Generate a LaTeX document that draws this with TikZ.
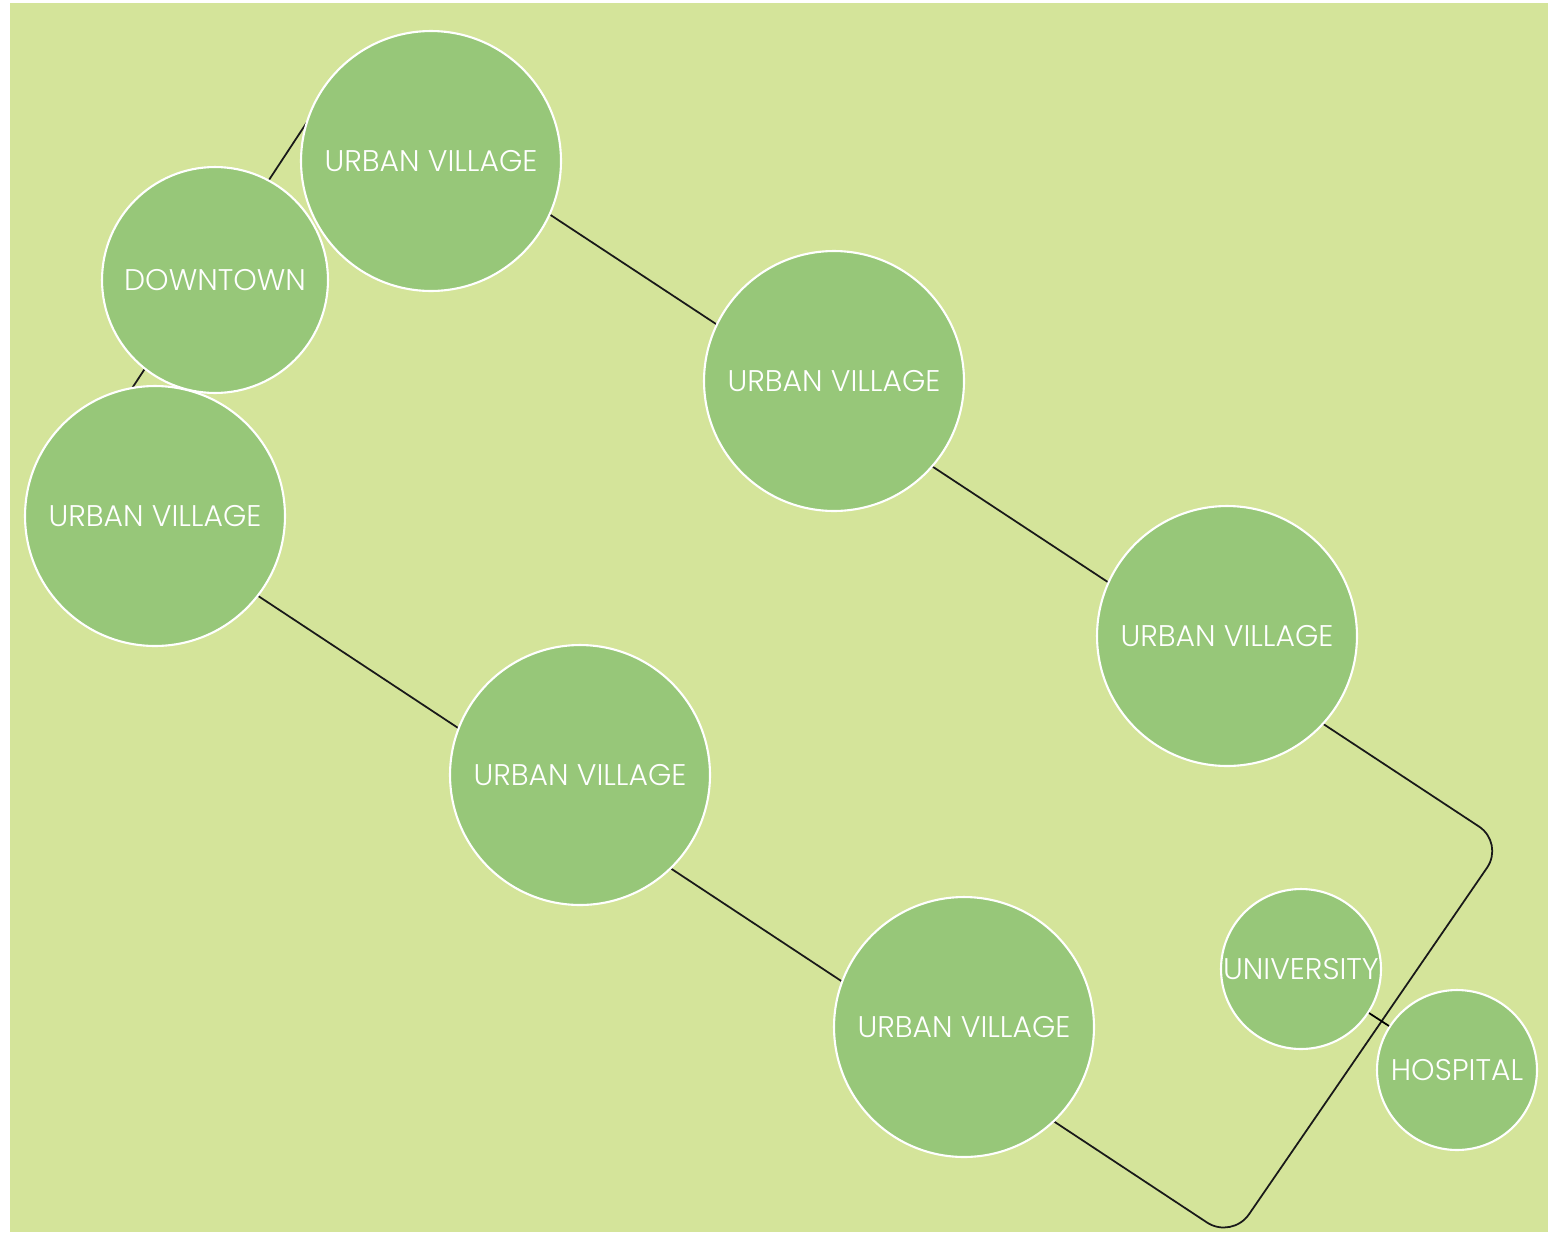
\documentclass[tikz,border=0pt]{standalone}
\usepackage{fontspec}
\setmainfont{Poppins}[UprightFont=* Light]
\definecolor{meadow}{RGB}{212,228,154}
\definecolor{leaf}{RGB}{151,199,121}
\tikzset{
  place/.style={circle, fill=leaf, draw=white, line width=1.2pt, text=white,
    inner sep=0pt, font=\fontsize{17}{17}\selectfont},
  village/.style={place, minimum size=5.2cm},
  hub/.style={place, minimum size=4.52cm},
  campus/.style={place, minimum size=3.2cm},
  loopline/.style={line width=1pt, black!90, rounded corners=0.6cm}
}
\begin{document}
\begin{tikzpicture}[x=0.02cm,y=-0.02cm]
  \useasboundingbox (0,0) rectangle (1548,1234);
  \fill[meadow] (10,3) rectangle (1548,1232);
  % corners of the loop, hidden behind the villages
  \coordinate (nw) at (338,75);
  \coordinate (ne) at (1504,843);
  \coordinate (se) at (1232,1239);
  \coordinate (sw) at (75,475);
  \draw[loopline] (nw) -- (ne) -- (se) -- (sw) -- cycle;
  \foreach \name/\x/\y in {uvtop/431/161, uvleft/155/516, uvmid/834/381,
      uvright/1227/636, uvcenter/580/775, uvbottom/964/1027} { %each urban village
    \node[village] (\name) at (\x,\y) {URBAN VILLAGE};
  }
  \node[hub] (downtown) at (215,280) {DOWNTOWN};
  \node[campus] (univ) at (1301,969) {UNIVERSITY};
  \node[campus] (hosp) at (1457,1070) {HOSPITAL};
  \draw[line width=1pt] (univ) -- (hosp);
\end{tikzpicture}
\end{document}
